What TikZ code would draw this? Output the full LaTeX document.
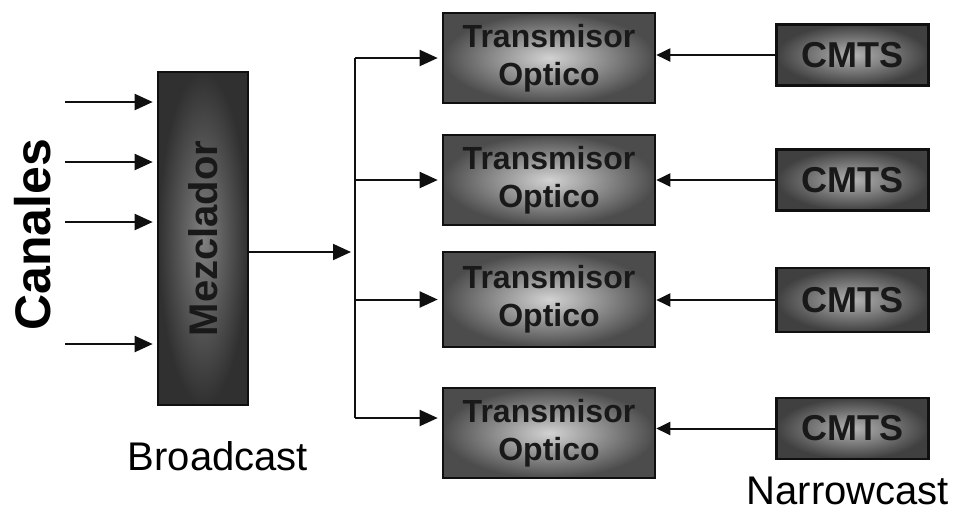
\documentclass[tikz,border=0pt]{standalone}
\usepackage{fontspec}
\setmainfont{Liberation Sans}
\usepackage{graphicx}
\usepackage{tikz}
\usetikzlibrary{positioning,arrows.meta,calc}
\definecolor{BLKline}{HTML}{101010}
\definecolor{MZinner}{HTML}{808080}
\definecolor{MZouter}{HTML}{303030}
\definecolor{TXinner}{HTML}{D2D2D2}
\definecolor{TXouter}{HTML}{4C4C4C}
\definecolor{CMinner}{HTML}{B4B4B4}
\definecolor{CMouter}{HTML}{404040}
\newcommand{\blkfont}[1]{\fontsize{#1}{1.25\dimexpr#1pt\relax}\selectfont\bfseries}
\tikzset{
  blockbox/.style={draw=BLKline, line width=1.3pt, inner sep=0pt, align=center, text=black!90},
  mixbox/.style={blockbox, inner color=MZinner, outer color=MZouter, minimum width=45pt, minimum height=166.5pt, font=\blkfont{20}},
  txbox/.style={blockbox, inner color=TXinner, outer color=TXouter, minimum width=106pt, minimum height=45pt, font={\fontsize{16}{19}\selectfont\bfseries}},
  cmtsbox/.style={blockbox, inner color=CMinner, outer color=CMouter, minimum width=76pt, minimum height=30.5pt, font=\blkfont{18}},
  bigarr/.style={-{Triangle[length=9pt, width=8pt]}, line width=1pt, draw=BLKline, shorten >=2pt},
  smallarr/.style={-{Triangle[length=7pt, width=6.5pt]}, line width=1pt, draw=BLKline},
  sidelabel/.style={font=\fontsize{20}{24}\selectfont, text=black, inner sep=0pt}
}

\begin{document}
\begin{tikzpicture}[x=0.5pt, y=-0.5pt]
\useasboundingbox (0,0) rectangle (954,511);
\node[mixbox] (mez) at (203,238.5) {\rotatebox{90}{Mezclador}};
\node[rotate=90, font=\blkfont{25}, inner sep=0pt] (can) at (33,235) {Canales};
\node[txbox] (t1) at (549,58) {Transmisor\\Optico};
\node[txbox] (t2) at (549,180) {Transmisor\\Optico};
\node[txbox, minimum height=47.5pt] (t3) at (549,299.5) {Transmisor\\Optico};
\node[txbox] (t4) at (549,433) {Transmisor\\Optico};
\node[cmtsbox] (c1) at (852.5,55) {CMTS};
\node[cmtsbox] (c2) at (852.5,180) {CMTS};
\node[cmtsbox, minimum height=32pt] (c3) at (852.5,300) {CMTS};
\node[cmtsbox] (c4) at (852.5,428.5) {CMTS};
\node[sidelabel, anchor=base] (bc) at (218,470) {Broadcast};
\node[sidelabel, anchor=base] (nc) at (848,504) {Narrowcast};
\foreach \y [count=\i] in {102,162,222,344}
  \coordinate (in\i) at (65,\y);
\foreach \i in {1,...,4}
  \draw[bigarr] (in\i) -- (in\i -| mez.west);
\coordinate (bus) at (355,252);
\coordinate (tap4) at (355,418);
\draw[bigarr] (mez.east |- bus) -- (bus);
\draw[line width=1pt, draw=BLKline] (bus |- t1.west) -- (tap4);
\foreach \i in {1,2,3}
  \draw[bigarr] (bus |- t\i.west) -- (t\i.west);
\draw[bigarr] (tap4) -- (tap4 -| t4.west);
\foreach \i in {1,...,4}
  \draw[smallarr] (c\i.west) -- (c\i.west -| t\i.east);
\end{tikzpicture}
\end{document}
